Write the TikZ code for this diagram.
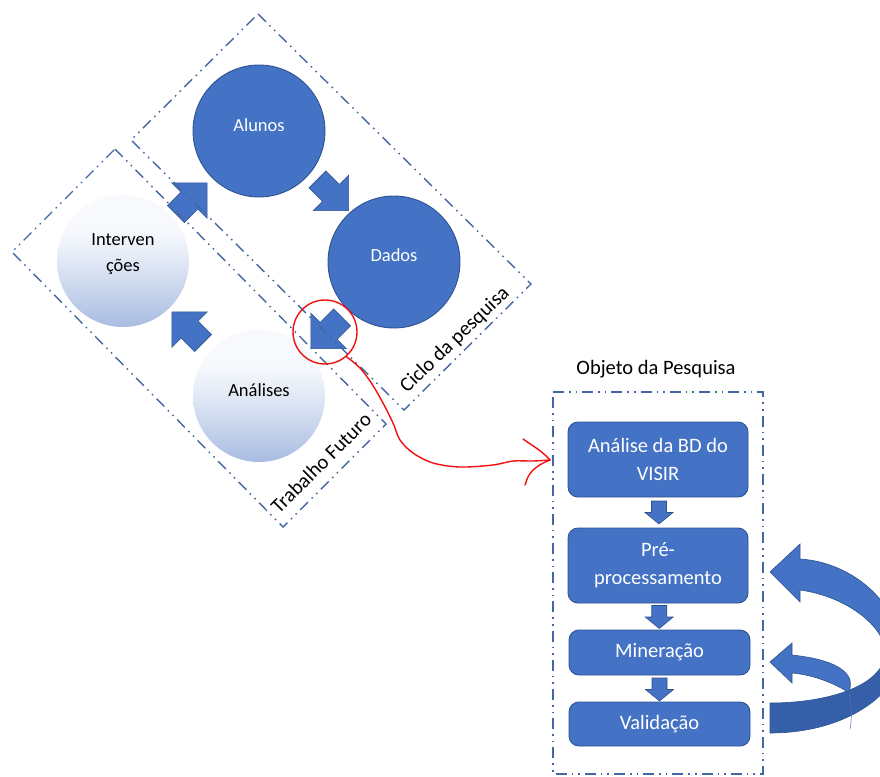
\documentclass[tikz,border=0pt]{standalone}
\usepackage{fontspec}
\setmainfont{Carlito}
\usetikzlibrary{calc}
\definecolor{obl}{HTML}{4472C4}
\definecolor{obd}{HTML}{2F528F}
\definecolor{dashc}{HTML}{4466A2}
\definecolor{darkrib}{HTML}{3560A9}
\definecolor{gbot}{HTML}{A8BCE1}
\definecolor{gmid}{HTML}{E6ECF7}
\definecolor{gtop}{HTML}{F7F9FD}
\definecolor{redpen}{HTML}{F01010}
\pgfdeclareverticalshading{circgrad}{100bp}{color(0bp)=(gbot); color(25bp)=(gbot); color(52bp)=(gmid); color(62bp)=(gtop); color(100bp)=(gtop)}
\newcommand{\ctxt}{\fontsize{18.5}{26}\selectfont}
\newcommand{\btxt}{\fontsize{20.5}{28}\selectfont}
\tikzset{
  bluecirc/.style={circle, fill=obl, draw=obd, line width=0.9pt, minimum size=132pt, inner sep=0pt},
  palecirc/.style={circle, shading=circgrad, draw=none, minimum size=132pt, inner sep=0pt},
  frame/.style={draw=dashc, line width=1.4pt, dash pattern=on 11pt off 5pt on 1.6pt off 5pt on 1.6pt off 5pt},
  stepbox/.style={rectangle, rounded corners=10pt, fill=obl, draw=obd, line width=0.9pt, text=white, font=\btxt, align=center, minimum width=180pt, inner sep=0pt},
  redline/.style={draw=redpen, line width=1.4pt, line cap=round, line join=round},
  blockarr/.pic={\filldraw[fill=obl, draw=obd, line width=0.6pt] (-22,-12) -- (-3,-12) -- (-3,-25) -- (22,0) -- (-3,25) -- (-3,12) -- (-22,12) -- cycle;},
  downarr/.pic={\filldraw[fill=obl, draw=obd, line width=0.6pt] (-7.5,-11.5) -- (7.5,-11.5) -- (7.5,0) -- (14,0) -- (0,11.5) -- (-14,0) -- (-7.5,0) -- cycle;}
}
\begin{document}
\begin{tikzpicture}[x=1pt,y=-1pt]
\useasboundingbox (0,0) rectangle (880,776);
\clip (0,0) rectangle (880,776);

% cycle circles
\node[bluecirc, label={[text=white, font=\ctxt, yshift=6pt]center:Alunos}] (alunos) at (259,131) {};
\node[bluecirc, label={[text=white, font=\ctxt, yshift=7pt]center:Dados}] (dados) at (394,262) {};
\node[palecirc, label={[text=black, font=\ctxt, align=center, yshift=7pt]center:Interven\\ções}] (interv) at (123,261) {};
\node[palecirc, label={[text=black, font=\ctxt, yshift=6pt]center:Análises}] (anal) at (259,396) {};

% block arrows of the cycle
\pic[rotate=-45] at ($(alunos)!0.5!(dados)+(6.5,-1.5)$) {blockarr};
\pic[rotate=45] at ($(interv)!0.5!(alunos)+(0.5,2.5)$) {blockarr};
\pic[rotate=135] at ($(anal)!0.5!(interv)+(-3.5,-1)$) {blockarr};
\pic[rotate=-135] at ($(dados)!0.5!(anal)+(0,4)$) {blockarr};

% dashed frames
\draw[frame] (258,14) -- (531,284) -- (404,410) -- (131,140) -- cycle;
\draw[frame] (115,149) -- (386,424) -- (283,527) -- (12,252) -- cycle;
\draw[frame] (553,392) -- (763,392) -- (763,774) -- (553,774) -- cycle;

\node[font=\btxt, rotate=44] (ciclo) at (455,340) {Ciclo da pesquisa};
\node[font=\btxt, rotate=45] (trab) at (321,463) {Trabalho Futuro};
\node[font=\btxt] (objl) at (656,369) {Objeto da Pesquisa};

% process boxes
\node[stepbox, minimum height=75pt] (b1) at (658,459.5) {Análise da BD do\\VISIR};
\node[stepbox, minimum height=75pt] (b2) at (658,565.5) {Pré-\\processamento};
\node[stepbox, minimum width=181pt, minimum height=45pt] (b3) at (659.5,652.5) {Mineração};
\node[stepbox, minimum width=181pt, minimum height=44pt] (b4) at (659.5,724) {Validação};

\pic at ($(b1.south)!0.5!(b2.north)+(1,0)$) {downarr};
\pic at ($(b2.south)!0.5!(b3.north)+(0.5,0.5)$) {downarr};
\pic at ($(b3.south)!0.5!(b4.north)+(0,1)$) {downarr};

% curved feedback arrows
\filldraw[fill=obl, draw=obd, line width=0.6pt]
  (770,572) -- (800,544) -- (800,559) .. controls (850,562) and (897,600) .. (902,650)
  -- (885,655) .. controls (888,630) and (850,597) .. (800,590) -- (800,602) -- cycle;
\filldraw[fill=darkrib, draw=obd, line width=0.6pt]
  (902,650) .. controls (903,690) and (850,733) .. (770,733) -- (770,703)
  .. controls (830,703) and (882,685) .. (885,655) -- cycle;
\draw[obd!80, line width=0.5pt] (849,694) .. controls (852,705) and (852,718) .. (850,729);
\filldraw[fill=obl, draw=obd, line width=0.6pt]
  (770,662) -- (792,643) -- (792,655) .. controls (820,658) and (845,665) .. (850,680)
  .. controls (851,686) and (850,690) .. (848,692)
  .. controls (835,684) and (815,675) .. (792,673) -- (792,683) -- cycle;

% red highlight
\node[draw=redpen, circle, line width=1.4pt, minimum size=64pt, inner sep=0pt] (hl) at (325,332) {};
\coordinate (rs) at (hl.-49);
\coordinate (redend) at (550,460);
\draw[redline] plot[smooth, tension=0.55] coordinates {(rs) (360,368) (372,384) (383,403) (393,423) (400,440) (413,453) (433,463) (460,467) (493,465) (513,461) (533,461) (redend)};
\draw[redline] (523,439) .. controls (533,446) and (542,451) .. (redend);
\draw[redline] (525,485) .. controls (528,476) and (530,468) .. (redend);
\end{tikzpicture}
\end{document}
